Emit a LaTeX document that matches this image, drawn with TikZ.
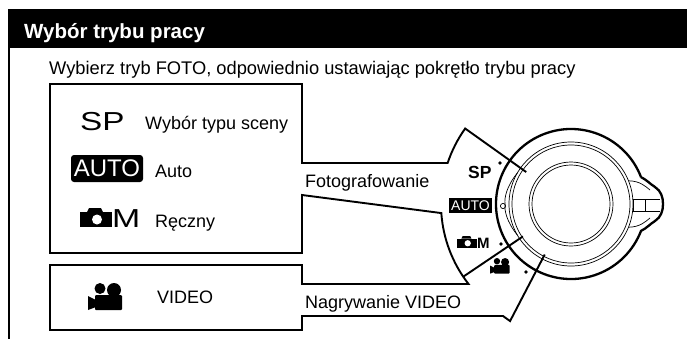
\documentclass[tikz,border=0pt]{standalone}
\usepackage{fontspec}
\setmainfont{Liberation Sans}
\usetikzlibrary{calc}

\tikzset{
  frameline/.style={line width=2.2pt},
  calloutline/.style={line width=1.9pt, line join=miter},
  dialthick/.style={line width=2.3pt},
  dialthin/.style={line width=0.7pt},
  lbl/.style={anchor=base west, inner sep=0pt, font=\fontsize{18}{20}\selectfont},
  dot/.style={fill=black},
  % still camera symbol, origin at its top-left corner
  cam/.pic={
    \fill (0,-4) rectangle (32,-19);
    \fill (7,-4) -- (9,0) -- (21,0) -- (23,-4) -- cycle;
    \fill[white] (17,-11.5) circle (5);
  },
  % movie camera symbol, origin at its top-left corner
  movcam/.pic={
    \fill (12,-5.5) circle (5.5);
    \fill (26,-7) circle (7);
    \fill[rounded corners=1pt] (7,-12) rectangle (34,-27);
    \fill (0,-13) -- (8,-17) -- (8,-24) -- (0,-27) -- cycle;
  },
}

\begin{document}
\begin{tikzpicture}[x=1pt,y=1pt]
\useasboundingbox (0,0) rectangle (687,-338);

% frame and title bar
\fill (8,-9) rectangle (690,-48);
\draw[frameline] (9,-345) -- (9,-10) -- (690,-10);
\node[anchor=base west, inner sep=0pt, text=white,
      font=\fontsize{20.5}{22}\selectfont\bfseries] (title) at (24,-38) {Wybór trybu pracy};
\node[lbl, font=\fontsize{18.3}{20}\selectfont] (intro) at (49,-74)
  {Wybierz tryb FOTO, odpowiednio ustawiając pokrętło trybu pracy};

% mode dial with its grip knob on the right
\coordinate (dial) at (571,-204);
\draw[dialthick] ($(dial)+(21:75pt)$) arc[start angle=21, end angle=339, radius=75pt]
  .. controls (647,-228) and (650,-224) .. (655,-221)
  .. controls (661,-217) and (663,-211) .. (663,-204)
  .. controls (663,-197) and (661,-191) .. (655,-187)
  .. controls (650,-184) and (647,-180) .. ($(dial)+(21:75pt)$);
\draw[dialthin] (dial) circle[radius=62pt];
\draw[dialthin] (dial) circle[radius=59pt];
\draw[dialthin] (dial) circle[radius=42pt];
\draw[dialthin] (dial) circle[radius=39pt];
\draw[dialthin] ($(dial)+(150:62pt)$) .. controls ($(dial)+(165:67pt)$) and ($(dial)+(175:67pt)$) .. ($(dial)+(180:66pt)$)
  .. controls ($(dial)+(185:67pt)$) and ($(dial)+(195:67pt)$) .. ($(dial)+(210:62pt)$);
\draw[dialthin] (633,-199) rectangle (645,-211);
\draw[dialthin] (645,-199) -- (660,-199) (645,-211) -- (660,-211);
\draw[dialthin] ($(dial)+(22:62pt)$) .. controls (640,-181) and (645,-186) .. (650,-190);
\draw[dialthin] ($(dial)+(-22:62pt)$) .. controls (640,-227) and (645,-222) .. (650,-218);

% dial position marks
\fill[dot] (500,-163) circle[radius=1.9pt];
\draw[line width=0.7pt] (503,-206) circle[radius=2.6pt];
\fill[dot] (501,-244) circle[radius=1.9pt];
\fill[dot] (526,-272) circle[radius=1.9pt];

% mode boxes and their callouts to the dial
\draw[calloutline]
  ($(dial)+(144.5:55pt)$) -- ($(dial)+(144.5:130pt)$)
  arc[start angle=144.5, end angle=161.6, radius=130pt]
  -- (302,-163) -- (302,-84) -- (50,-84) -- (50,-253) -- (302,-253) -- (302,-195)
  -- ($(dial)+(184:130pt)$) arc[start angle=184, end angle=218, radius=130pt]
  -- (302,-284) -- (302,-265) -- (50,-265) -- (50,-330) -- (302,-330) -- (302,-316)
  -- (503,-316) -- ($(dial)+(242.5:132pt)$) -- ($(dial)+(242.5:57pt)$);
\draw[calloutline] ($(dial)+(214:130pt)$) -- ($(dial)+(214:58pt)$);

% callout labels
\node[lbl] (foto) at (305,-187) {Fotografowanie};
\node[lbl] (nagr) at (305,-308) {Nagrywanie VIDEO};

% photo box entries
\node[anchor=base west, inner sep=0pt] (spbig) at (80,-130)
  {\scalebox{1.28}[1]{\fontsize{26}{26}\selectfont SP}};
\node[lbl] (sptxt) at (145,-129) {Wybór typu sceny};
\node[fill=black, text=white, rounded corners=3pt, inner sep=0pt,
      minimum width=72pt, minimum height=27pt,
      font=\fontsize{24}{24}\selectfont] (autobig) at (107,-168.5) {AUTO};
\node[lbl] (autotxt) at (155,-177) {Auto};
\pic at (80,-208) {cam};
\node[anchor=base west, inner sep=0pt] (mbig) at (112,-227)
  {\scalebox{1.3}[1]{\fontsize{26}{26}\selectfont M}};
\node[lbl] (mtxt) at (155,-227) {Ręczny};

% video box entry
\pic at (88,-283) {movcam};
\node[lbl] (vidtxt) at (157,-303) {VIDEO};

% dial sector labels
\node[anchor=base west, inner sep=0pt, font=\fontsize{17.5}{18}\selectfont\bfseries] (spsm) at (468,-178) {SP};
\node[fill=black, text=white, inner sep=0pt, minimum width=43pt, minimum height=15pt,
      font=\fontsize{14}{14}\selectfont] (autosm) at (470.5,-205.5) {AUTO};
\pic[scale=0.63] at (457,-236) {cam};
\node[anchor=base west, inner sep=0pt, font=\fontsize{15}{15}\selectfont\bfseries] (msm) at (477,-248) {M};
\pic[scale=0.58] at (490,-258) {movcam};
\end{tikzpicture}
\end{document}
